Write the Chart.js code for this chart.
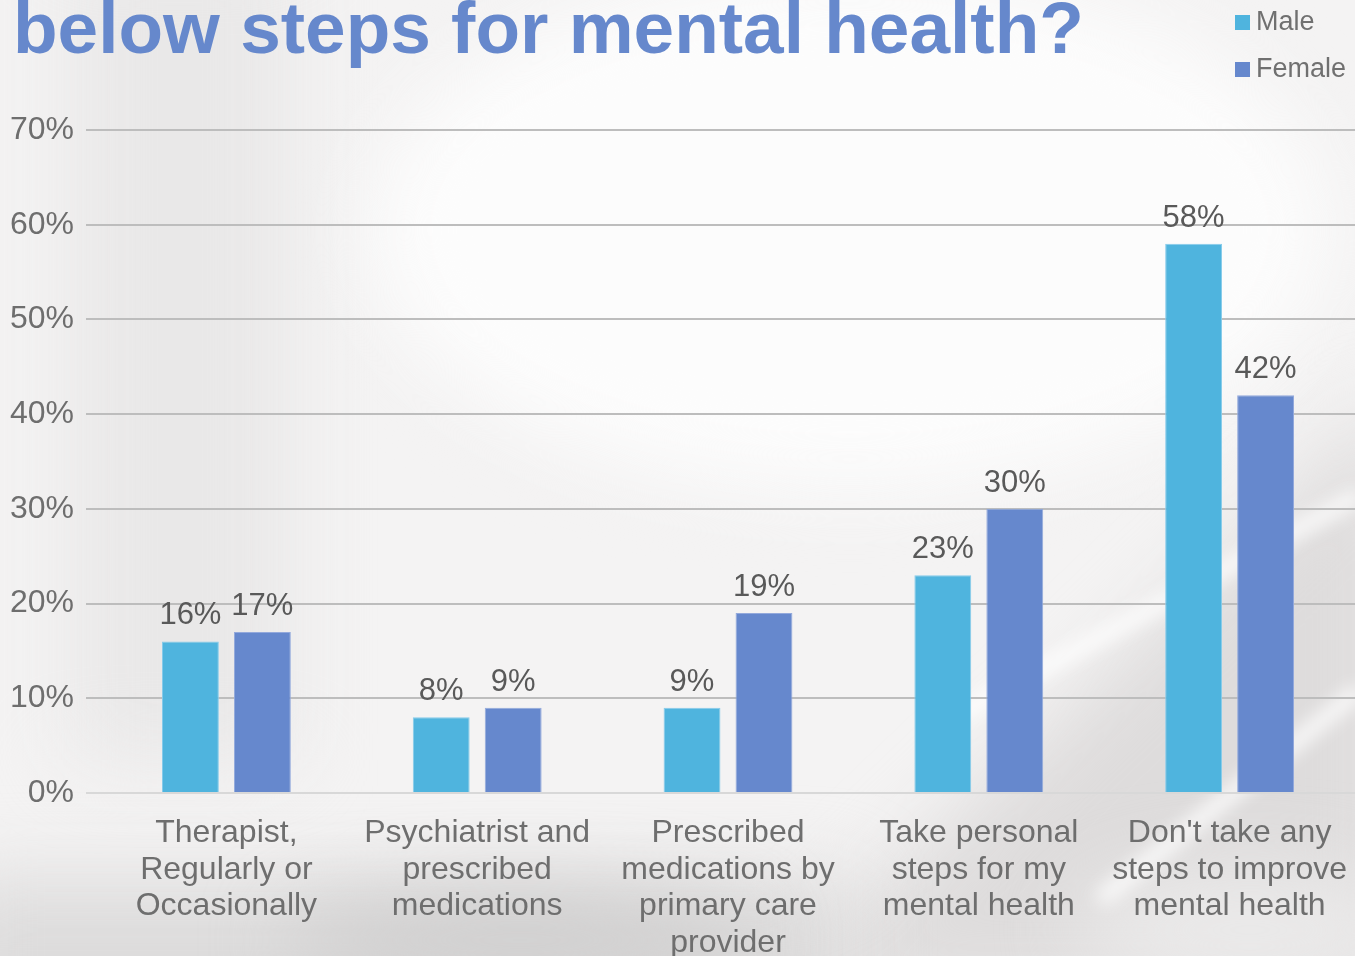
<!DOCTYPE html>
<html>
<head>
<meta charset="utf-8">
<script src="https://cdn.jsdelivr.net/npm/chart.js@4.4.0/dist/chart.umd.min.js"></script>
<style>
  html, body { margin: 0; padding: 0; }
  body {
    width: 1355px; height: 956px; overflow: hidden; position: relative;
    font-family: "Liberation Sans", Arial, sans-serif;
  }
  #bg, #chartBox { position: absolute; left: 0; top: 0; }
  .title {
    position: absolute; left: 13px; top: -9px;
    font-size: 73px; font-weight: bold; line-height: 1;
    color: #6688cc; white-space: nowrap;
  }
  .legend { position: absolute; left: 1235px; top: 0; }
  .legend div {
    position: absolute; left: 0; white-space: nowrap;
    font-size: 27px; line-height: 1; color: #707070;
  }
  .legend span {
    display: inline-block; width: 15px; height: 15px;
    margin-right: 6px; vertical-align: 0px;
  }
</style>
</head>
<body>
<canvas id="bg" width="1355" height="956"></canvas>
<div class="title">below steps for mental health?</div>
<div id="chartBox"><canvas id="barChart" width="1355" height="956"></canvas></div>
<div class="legend" id="legend"></div>

<script>
const categories = [
    ['Therapist,', 'Regularly or', 'Occasionally'],
    ['Psychiatrist and', 'prescribed', 'medications'],
    ['Prescribed', 'medications by', 'primary care', 'provider'],
    ['Take personal', 'steps for my', 'mental health'],
    ["Don't take any", 'steps to improve', 'mental health']
];
const seriesNames = ['Male', 'Female'];
const maleValues = [16, 8, 9, 23, 58];
const femaleValues = [17, 9, 19, 30, 42];
const seriesColors = ['#4fb4de', '#6688cd'];
const seriesEdges = ['#86cbea', '#93a9dc'];
const yMax = 70;
const yStep = 10;

Chart.defaults.font.family = '"Liberation Sans", Arial, sans-serif';

// soft photo-like backdrop behind the chart
function paintBackdrop() {
    const g = document.getElementById('bg').getContext('2d');
    g.fillStyle = '#f4f3f3';
    g.fillRect(0, 0, 1355, 956);

    g.filter = 'blur(40px)';
    g.fillStyle = '#e9e8e8';
    g.fillRect(70, -60, 220, 820);
    g.fillStyle = '#fcfcfc';
    g.beginPath();
    g.ellipse(850, 230, 480, 260, 0, 0, Math.PI * 2);
    g.fill();

    // forearm band on the right
    g.fillStyle = '#dedcdc';
    g.beginPath();
    g.moveTo(760, 1000);
    g.lineTo(1400, 390);
    g.lineTo(1400, 1000);
    g.closePath();
    g.fill();

    // lower strip with the hands
    g.fillStyle = '#dcdbdb';
    g.fillRect(-50, 880, 900, 160);
    g.fillStyle = '#cfcece';
    g.beginPath();
    g.ellipse(520, 940, 240, 45, 0, 0, Math.PI * 2);
    g.fill();
    g.fillStyle = '#ebeaea';
    g.beginPath();
    g.ellipse(1250, 930, 180, 60, 0, 0, Math.PI * 2);
    g.fill();

    // pale highlights along the arm
    g.filter = 'blur(9px)';
    g.strokeStyle = 'rgba(255,255,255,0.85)';
    g.lineWidth = 16;
    g.beginPath();
    g.moveTo(930, 730);
    g.lineTo(1360, 495);
    g.stroke();
    g.beginPath();
    g.moveTo(1100, 900);
    g.lineTo(1360, 690);
    g.stroke();
    g.filter = 'none';
}

function buildLegend() {
    const box = document.getElementById('legend');
    const tops = [8, 55];
    seriesNames.forEach((name, i) => {
        const row = document.createElement('div');
        row.style.top = tops[i] + 'px';
        row.innerHTML = '<span style="background:' + seriesColors[i] + '"></span>' + name;
        box.appendChild(row);
    });
}

// percentage above each bar
const valueLabels = {
    id: 'valueLabels',
    afterDatasetsDraw(chart) {
        const ctx = chart.ctx;
        ctx.save();
        ctx.font = '31px "Liberation Sans", Arial, sans-serif';
        ctx.fillStyle = '#595959';
        ctx.textAlign = 'center';
        ctx.textBaseline = 'alphabetic';
        chart.data.datasets.forEach((ds, i) => {
            chart.getDatasetMeta(i).data.forEach((bar, j) => {
                ctx.fillText(ds.data[j] + '%', bar.x, bar.y - 17);
            });
        });
        ctx.restore();
    }
};

paintBackdrop();
buildLegend();

new Chart(document.getElementById('barChart'), {
    type: 'bar',
    data: {
        labels: categories,
        datasets: [maleValues, femaleValues].map((vals, i) => ({
            label: seriesNames[i],
            data: vals,
            backgroundColor: seriesColors[i],
            borderColor: seriesEdges[i],
            borderWidth: 1,
            categoryPercentage: 0.574,
            barPercentage: 0.79
        }))
    },
    options: {
        responsive: false,
        animation: false,
        layout: { padding: { top: 130, left: 0, right: 0, bottom: 0 } },
        plugins: {
            legend: { display: false },
            tooltip: { enabled: false }
        },
        scales: {
            x: {
                grid: { display: false },
                border: { display: false },
                ticks: {
                    color: '#6e6e6e',
                    font: { size: 32, lineHeight: 1.14 },
                    padding: 14,
                    maxRotation: 0,
                    autoSkip: false
                },
                afterFit: s => {
                    s.height = 163;
                    s.paddingLeft = 0;
                    s.paddingRight = 0;
                }
            },
            y: {
                min: 0,
                max: yMax,
                border: { display: false },
                grid: {
                    color: c => c.tick && c.tick.value === 0 ? '#d8d8d8' : '#bdbdbd',
                    lineWidth: 2,
                    drawTicks: true,
                    tickLength: 15
                },
                ticks: {
                    stepSize: yStep,
                    color: '#6e6e6e',
                    font: { size: 32, family: '"Liberation Sans Narrow", "Arial Narrow", "Liberation Sans", Arial, sans-serif' },
                    padding: 12,
                    callback: v => v + '%'
                },
                afterFit: s => { s.width = 101; }
            }
        }
    },
    plugins: [valueLabels]
});
</script>
</body>
</html>
